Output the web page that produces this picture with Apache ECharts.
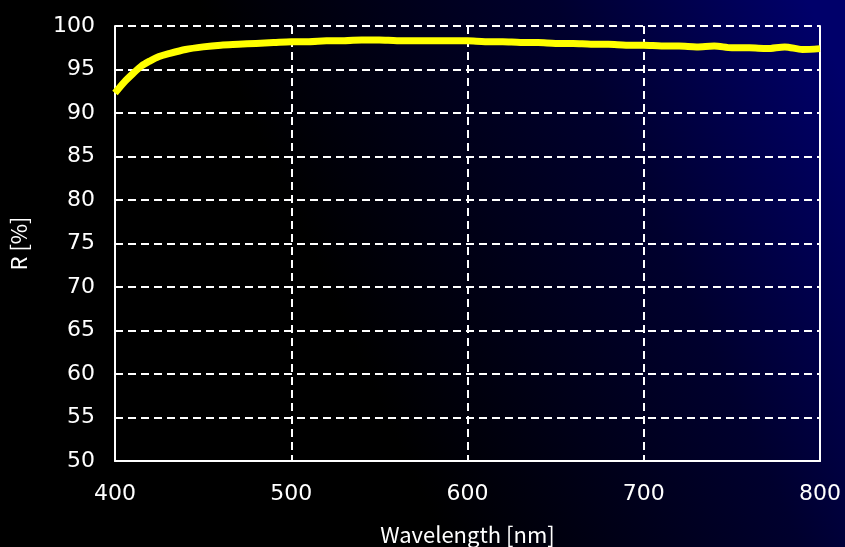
<!DOCTYPE html>
<html>
<head>
<meta charset="utf-8">
<script src="https://cdn.jsdelivr.net/npm/echarts@6/dist/echarts.min.js"></script>
<style>html,body{margin:0;padding:0;background:#000;}#c{width:845px;height:547px;}</style>
</head>
<body>
<div id="c"></div>
<script>
const wavelengths = [400,405,410,415,420,425,430,440,450,460,470,480,490,500,510,520,530,540,550,560,570,580,590,600,610,620,630,640,650,660,670,680,690,700,710,720,730,740,750,760,770,780,790,800];
const reflectance = [92.3,93.5,94.5,95.4,96.0,96.5,96.8,97.3,97.6,97.8,97.9,98.0,98.1,98.2,98.2,98.3,98.3,98.4,98.4,98.3,98.3,98.3,98.3,98.3,98.2,98.2,98.1,98.1,98.0,98.0,97.9,97.9,97.8,97.8,97.7,97.7,97.6,97.7,97.5,97.5,97.4,97.6,97.3,97.4];
const xTicks = [400,500,600,700,800];
const yTicks = [50,55,60,65,70,75,80,85,90,95,100];

const chart = echarts.init(document.getElementById('c'), null, {renderer:'canvas'});
const dash = {color:'#ffffff', width:2, type:[8,5]};
chart.setOption({
  animation:false,
  backgroundColor:{type:'linear', x:0, y:0.85, x2:1, y2:0.15, colorStops:[
    {offset:0, color:'#000000'},{offset:0.4, color:'#000000'},{offset:0.75, color:'#00002e'},{offset:1, color:'#00006a'}]},
  grid:{left:115, right:25, top:26, bottom:86, outerBoundsMode:'none', containLabel:false},
  xAxis:[{
    type:'value', min:xTicks[0], max:xTicks[xTicks.length-1], interval:100,
    name:'Wavelength [nm]', nameLocation:'middle', nameGap:63,
    nameTextStyle:{color:'#ffffff', fontSize:22, fontFamily:'Noto Sans CJK JP'},
    axisLine:{show:true, onZero:false, lineStyle:{color:'#ffffff', width:2}},
    axisTick:{show:false},
    axisLabel:{color:'#ffffff', fontSize:22, fontFamily:'DejaVu Sans', margin:22},
    splitLine:{show:true, lineStyle:dash}
  }],
  yAxis:[{
    type:'value', min:yTicks[0], max:yTicks[yTicks.length-1], interval:5,
    name:'R [%]', nameLocation:'middle', nameGap:85, nameRotate:90,
    nameTextStyle:{color:'#ffffff', fontSize:22, fontFamily:'Noto Sans CJK JP'},
    axisLine:{show:true, onZero:false, lineStyle:{color:'#ffffff', width:2}},
    axisTick:{show:false},
    axisLabel:{color:'#ffffff', fontSize:22, fontFamily:'DejaVu Sans', margin:20},
    splitLine:{show:true, lineStyle:dash}
  },{
    type:'value', position:'right', min:yTicks[0], max:yTicks[yTicks.length-1], interval:5,
    axisLine:{show:true, onZero:false, lineStyle:{color:'#ffffff', width:2}},
    axisTick:{show:false}, axisLabel:{show:false}, splitLine:{show:false}
  }],
  series:[{
    type:'line', data:wavelengths.map((w,i)=>[w, reflectance[i]]),
    showSymbol:false, smooth:0.3, lineStyle:{color:'#ffff00', width:7}
  }]
});
</script>
</body>
</html>
